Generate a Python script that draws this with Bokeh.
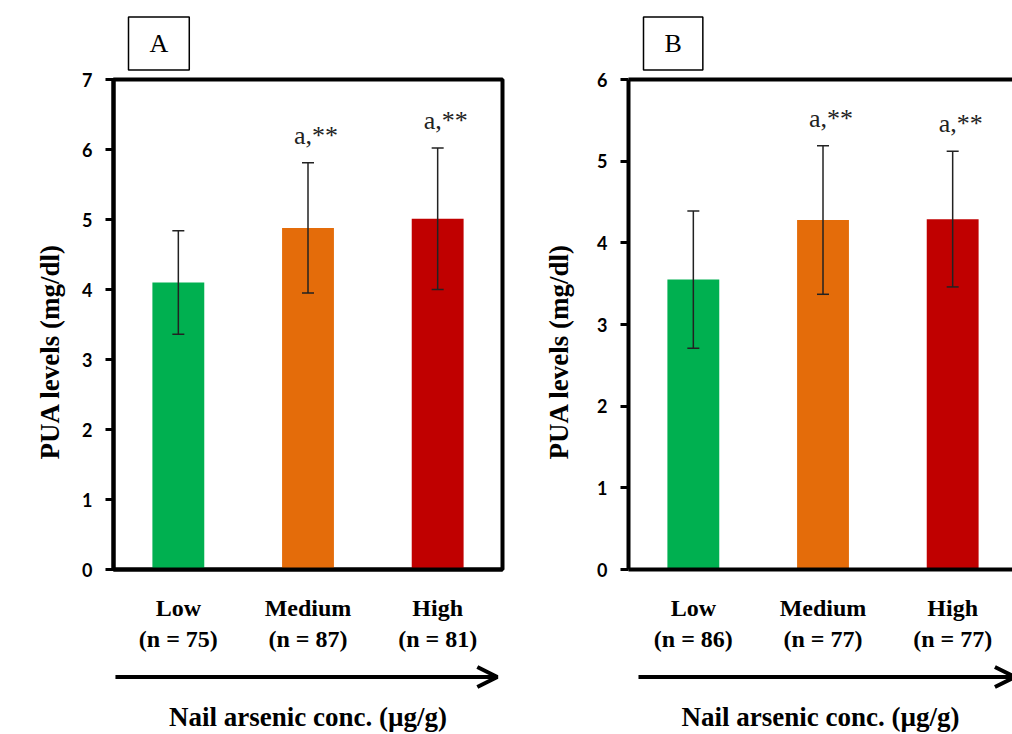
import numpy as np
from bokeh.plotting import figure
from bokeh.models import (ColumnDataSource, Range1d, FixedTicker, Whisker, TeeHead,
                          Arrow, OpenHead, LinearAxis, Title)
from bokeh.layouts import row, column
from bokeh.core.properties import value
from bokeh.embed import file_html
from bokeh.resources import INLINE

# ---------------- data ----------------
categories = ["Low", "Medium", "High"]
colors = ["#00B050", "#E46C0A", "#C00000"]

n_a = [75, 87, 81]
mean_a = [4.10, 4.88, 5.01]
sd_a = [0.74, 0.93, 1.01]
sig_a = ["", "a,**", "a,**"]

n_b = [86, 77, 77]
mean_b = [3.55, 4.28, 4.29]
sd_b = [0.84, 0.91, 0.83]
sig_b = ["", "a,**", "a,**"]

y_ticks_a = [0, 1, 2, 3, 4, 5, 6, 7]
y_ticks_b = [0, 1, 2, 3, 4, 5, 6]

y_title = "PUA levels (mg/dl)"
x_title = "Nail arsenic conc. (\u00b5g/g)"

SERIF = "Liberation Serif"
SANS = "Lato"


def make_panel(letter, n, mean, sd, sig, yticks, width, border_left, border_right,
               x_end, arrow_x, ytitle_standoff, right_outline):
    x = np.arange(len(categories)) + 0.5
    mean = np.array(mean)
    sd = np.array(sd)
    src = ColumnDataSource(dict(x=x, top=mean, upper=mean + sd, lower=mean - sd, color=colors))
    keep = [i for i, s in enumerate(sig) if s]
    sig_src = ColumnDataSource(dict(x=[x[i] for i in keep], y=[mean[i] + sd[i] for i in keep],
                                    sig=[sig[i] for i in keep]))
    xr = Range1d(0, x_end)
    p = figure(width=width, height=654, output_backend="svg", toolbar_location=None,
               x_range=xr, y_range=Range1d(yticks[0], yticks[-1]),
               min_border_left=border_left, min_border_right=border_right,
               min_border_top=79, min_border_bottom=84)
    p.xgrid.visible = False
    p.ygrid.visible = False
    p.background_fill_color = "white"
    p.border_fill_color = "white"
    if right_outline:
        p.outline_line_color = "black"
        p.outline_line_width = 4
    else:
        p.outline_line_color = None
        top = LinearAxis(axis_line_width=4, axis_line_color="black", ticker=FixedTicker(ticks=[]),
                         major_tick_line_color=None, minor_tick_line_color=None)
        p.add_layout(top, "above")

    # boxed panel letter
    p.add_layout(Title(text=letter, text_font=SERIF, text_font_size="26px",
                       text_font_style="normal", text_color="black", align="left",
                       offset=15, standoff=19,
                       border_line_color="black", border_line_width=1.5,
                       background_fill_color="white", padding=(21, 12)), "above")

    p.vbar(x="x", top="top", width=0.4, bottom=0, color="color", line_color=None, source=src)
    p.add_layout(Whisker(source=src, base="x", upper="upper", lower="lower",
                         dimension="height", line_color="#222222", line_width=1.5, level="overlay",
                         upper_head=TeeHead(size=12, line_color="#222222", line_width=1.5),
                         lower_head=TeeHead(size=12, line_color="#222222", line_width=1.5)))
    p.text(x="x", y="y", text="sig", source=sig_src, x_offset=8, y_offset=-13,
           text_align="center", text_baseline="bottom",
           text_font=value(SERIF), text_font_size="26px", text_color="#222222")

    # y axis
    ya = p.left[0]
    ya.ticker = FixedTicker(ticks=yticks)
    ya.minor_tick_line_color = None
    ya.axis_line_width = 4
    ya.major_tick_line_width = 3
    ya.major_tick_out = 8
    ya.major_tick_in = 0
    ya.major_label_standoff = 13
    ya.major_label_text_font = SANS
    ya.major_label_text_font_style = "bold"
    ya.major_label_text_font_size = "18px"
    ya.major_label_text_color = "black"
    # y title placed beside the axis, shifted along it like the original
    p.add_layout(Title(text=y_title, text_font=SERIF, text_font_size="27px",
                       text_font_style="bold", text_color="black", align="left",
                       vertical_align="top", offset=110, standoff=ytitle_standoff), "left")

    # x axis (category labels)
    xa = p.below[0]
    xa.ticker = FixedTicker(ticks=list(x))
    xa.major_label_overrides = {float(xx): f"{c}\n(n = {k})" for xx, c, k in zip(x, categories, n)}
    xa.axis_line_width = 4
    xa.major_tick_line_color = None
    xa.minor_tick_line_color = None
    xa.major_label_standoff = 19
    xa.major_label_text_font = SERIF
    xa.major_label_text_font_style = "bold"
    xa.major_label_text_font_size = "24px"
    xa.major_label_text_color = "black"

    # lower strip: arrow + axis title
    q = figure(width=width, height=80, output_backend="svg", toolbar_location=None,
               x_range=xr, y_range=Range1d(0, 1),
               min_border_left=border_left, min_border_right=border_right,
               min_border_top=0, min_border_bottom=34)
    q.outline_line_color = None
    q.xgrid.visible = False
    q.ygrid.visible = False
    q.yaxis.visible = False
    qa = q.below[0]
    qa.ticker = FixedTicker(ticks=[])
    qa.axis_line_color = None
    qa.major_tick_line_color = None
    qa.minor_tick_line_color = None
    qa.axis_label = x_title
    qa.axis_label_text_font = SERIF
    qa.axis_label_text_font_style = "bold"
    qa.axis_label_text_font_size = "27px"
    qa.axis_label_text_color = "black"
    qa.axis_label_standoff = 2
    q.add_layout(Arrow(x_start=arrow_x[0], x_end=arrow_x[1], y_start=0.5, y_end=0.5,
                       line_width=4, line_color="black",
                       end=OpenHead(size=20, line_width=4, line_color="black")))
    return column(p, q)


pA = make_panel("A", n_a, mean_a, sd_a, sig_a, y_ticks_a, width=523,
                border_left=113, border_right=21, x_end=3.0,
                arrow_x=(0.015, 2.96), ytitle_standoff=26, right_outline=True)
pB = make_panel("B", n_b, mean_b, sd_b, sig_b, y_ticks_b, width=489,
                border_left=105, border_right=0, x_end=384 / 129.67,
                arrow_x=(0.077, 2.98), ytitle_standoff=38, right_outline=False)

layout = row(pA, pB)
open("out.html", "w").write(file_html(layout, INLINE))
